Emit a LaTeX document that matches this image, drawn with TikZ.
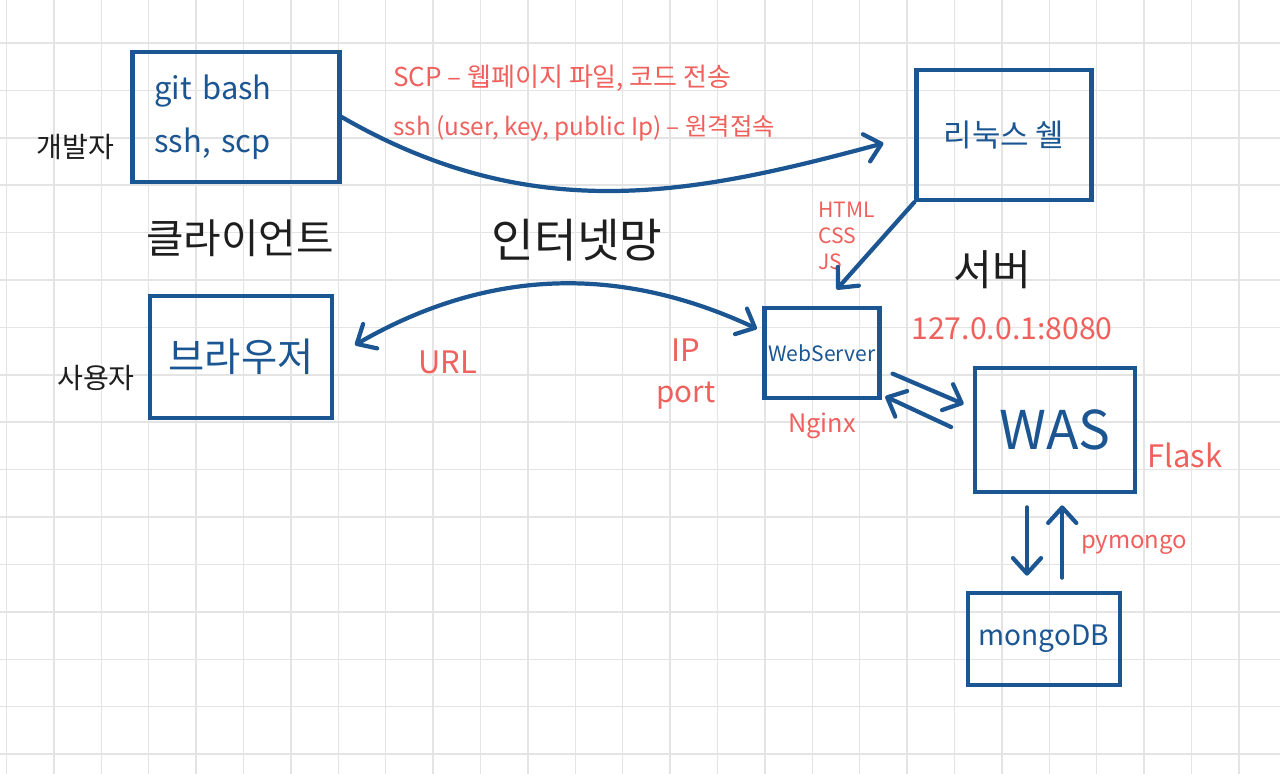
\documentclass[tikz,border=0pt]{standalone}
\usepackage{fontspec}
\setmainfont{Noto Sans CJK KR}
\usepackage{tikz}
\usetikzlibrary{arrows.meta,calc,positioning}
\definecolor{bluepen}{RGB}{27,86,146}
\definecolor{redpen}{RGB}{240,96,92}
\definecolor{blackpen}{RGB}{30,30,30}
\definecolor{gridgray}{RGB}{228,228,228}
\newcommand{\fsz}[1]{\fontsize{#1}{1.15\dimexpr#1pt\relax}\selectfont}
\tikzset{
        box/.style = {draw=bluepen, rectangle, line width=3pt,
            text=bluepen, inner sep=0pt},
        arrow/.style = {draw=bluepen, line width=3pt, line cap=round,
            -{Straight Barb[length=11pt,width=20pt,round]}},
        dual/.style = {arrow,
            {Straight Barb[length=11pt,width=20pt,round]}-{Straight Barb[length=11pt,width=20pt,round]}},
        memo/.style = {text=redpen, inner sep=0pt},
        word/.style = {text=blackpen, inner sep=0pt},
        gridline/.style = {draw=gridgray, line width=1pt},
    }

\begin{document}
\begin{tikzpicture}[x=0.025cm, y=0.025cm]
    \fill[white] (0,0) rectangle (1280,-774);
    \useasboundingbox (0,0) rectangle (1280,-774);
    % grid paper
    \foreach \i in {0,...,26}
        \draw[gridline] ({6.5+47.4*\i},0) -- ({6.5+47.4*\i},-774);
    \foreach \j in {0,...,15}
        \draw[gridline] (0,{-43-47.4*\j}) -- (1280,{-43-47.4*\j});

    % client side
    \node[box, minimum width=5.175cm, minimum height=3.25cm,
          text width=4.075cm, align=left, font=\fontsize{22}{38}\selectfont]
          at (236,-117) (gitbash) {git bash\\ssh, scp};
    \node[word, font=\fsz{20}, left=0.4cm of gitbash.west, yshift=-0.75cm] (dev) {개발자};
    \node[word, font=\fsz{29}] at (240,-238) (client) {클라이언트};
    \node[box, minimum width=4.55cm, minimum height=3.05cm, font=\fsz{28}]
          at (241,-357) (browser) {브라우저};
    \node[word, font=\fsz{20}] at (96,-378) (user) {사용자};

    % internet
    \node[word, font=\fsz{33}] at (577,-240) (net) {인터넷망};
    \node[memo, anchor=west, font=\fsz{18.5}] at (393,-78) (scp) {SCP – 웹페이지 파일, 코드 전송};
    \node[memo, anchor=west, font=\fsz{17.3}] at (393,-128) (ssh) {ssh (user, key, public Ip) – 원격접속};
    \node[memo, font=\fsz{22}] at (448,-362) (url) {URL};
    \node[memo, font=\fsz{22}] at (686,-350) (ip) {IP};
    \node[memo, font=\fsz{21}, below=0.5cm of ip] (port) {port};

    % server side
    \node[box, minimum width=4.375cm, minimum height=3.25cm, font=\fsz{22}]
          at (1004,-135) (shell) {리눅스 쉘};
    \node[memo, align=left, anchor=west, font=\fontsize{15}{18.5}\selectfont]
          at (818,-236) (front) {HTML\\CSS\\JS};
    \node[word, font=\fsz{30}] at (992,-270) (server) {서버};
    \node[memo, font=\fsz{21.5}] at (1012,-329) (local) {127.0.0.1:8080};
    \node[box, minimum width=2.875cm, minimum height=2.25cm, font=\fsz{15}]
          at (822,-353) (webserver) {WebServer};
    \node[memo, font=\fsz{18}, below=0.3cm of webserver.south] (nginx) {Nginx};
    \node[box, minimum width=4cm, minimum height=3.1cm, font=\fsz{38}]
          at (1055,-430) (was) {WAS};
    \node[memo, font=\fsz{22}] at (1185,-455) (flask) {Flask};
    \node[box, minimum width=3.8cm, minimum height=2.3cm, font=\fsz{20}]
          at (1044,-639) (mongo) {mongoDB};
    \node[memo, font=\fsz{17}] at (1134,-545) (pymongo) {pymongo};

    % connectors
    \draw[arrow, shorten >=0.8cm] (gitbash.east) to[out=-30, in=195] (shell.west);
    \draw[arrow, shorten >=0.55cm] (shell.south west) -- (webserver.north);
    \draw[dual, shorten <=0.6cm, shorten >=0.15cm] (browser.east) to[out=30, in=155] (webserver.160);
    \draw[arrow, shorten <=0.3cm, shorten >=0.25cm] (webserver.-15) -- (was.165);
    \draw[arrow, shorten <=0.6cm, shorten >=0.1cm] (was.185) -- (webserver.-35);
    \draw[arrow, shorten <=0.33cm, shorten >=0.38cm]
          ([xshift=-0.7cm]was.south) -- ([xshift=-0.7cm]was.south |- mongo.north);
    \draw[arrow, shorten <=0.33cm, shorten >=0.28cm]
          ([xshift=0.18cm]was.south |- mongo.north) -- ([xshift=0.18cm]was.south);
\end{tikzpicture}
\end{document}
